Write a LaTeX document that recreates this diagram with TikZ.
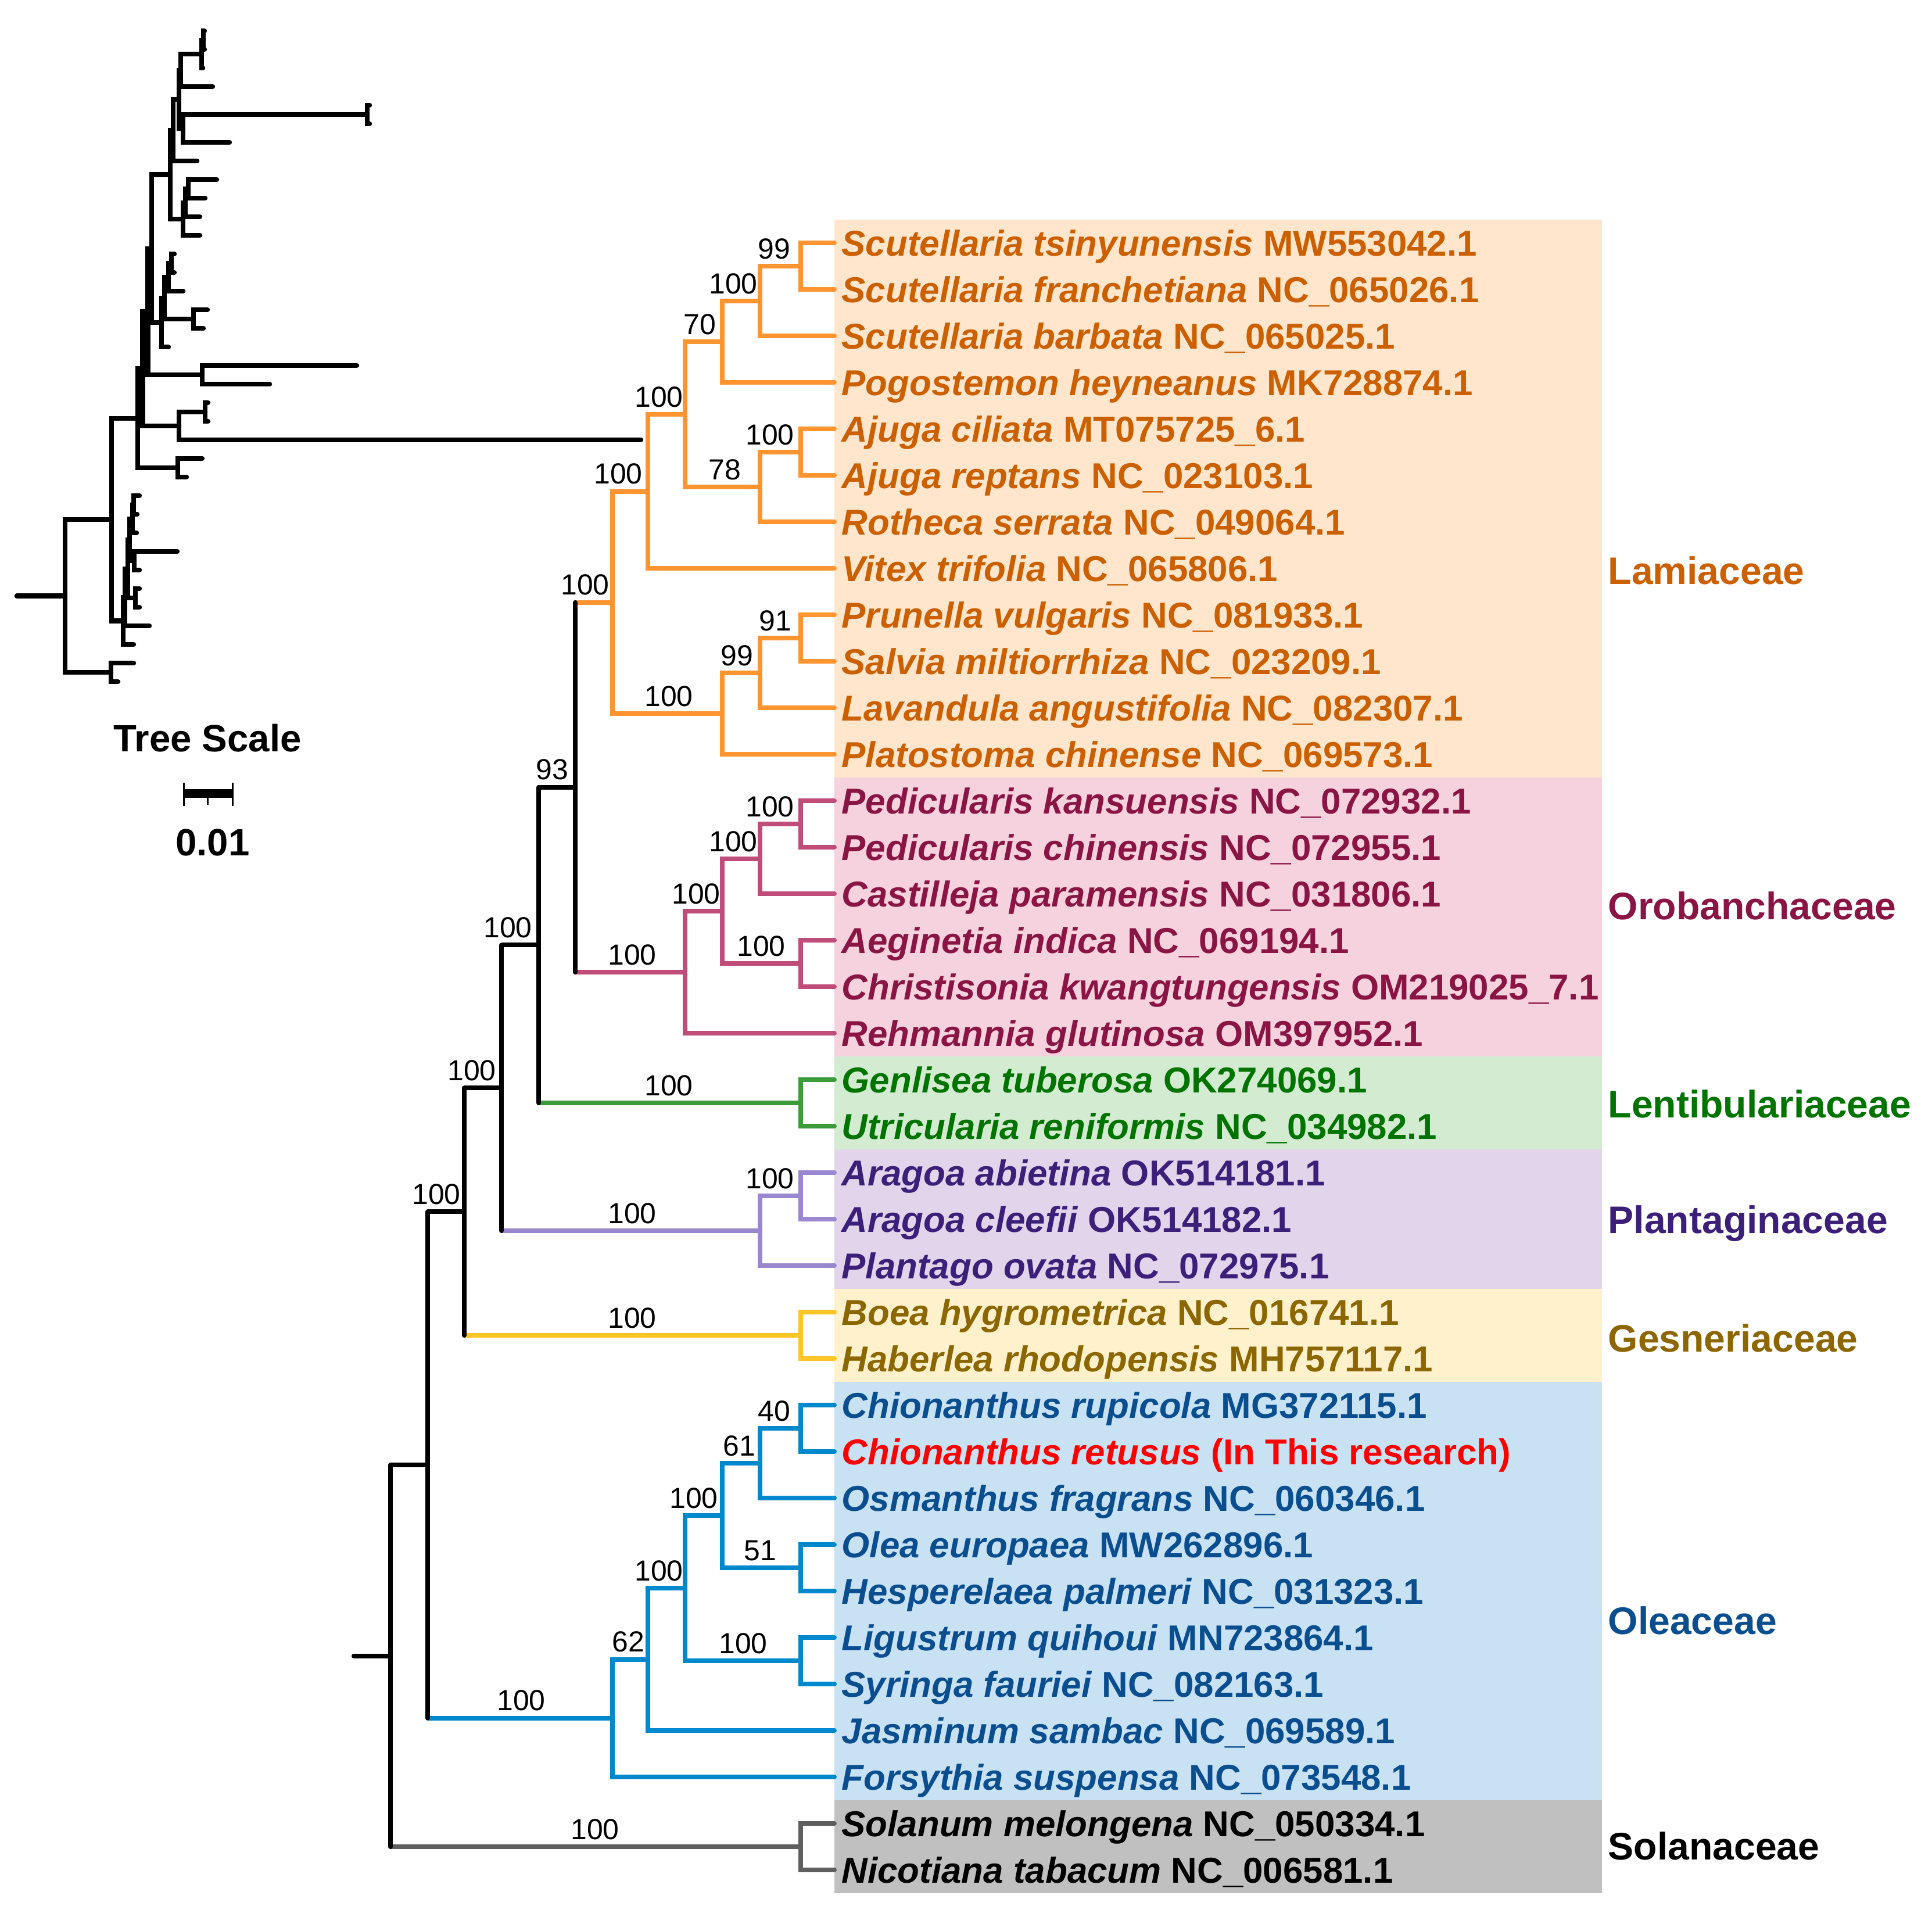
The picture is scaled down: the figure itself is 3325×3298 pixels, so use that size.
\documentclass[tikz,border=0pt]{standalone}
\usepackage{fontspec}
\setmainfont{Liberation Sans}
\usetikzlibrary{positioning}

\definecolor{lamB}{HTML}{FF9430}
\definecolor{lamT}{HTML}{CC5F00}
\definecolor{lamF}{HTML}{FFE6CC}
\definecolor{oroB}{HTML}{C04C7A}
\definecolor{oroT}{HTML}{8A1545}
\definecolor{oroF}{HTML}{F6D2DE}
\definecolor{lenB}{HTML}{3C9C3C}
\definecolor{lenT}{HTML}{007300}
\definecolor{lenF}{HTML}{D3EBD1}
\definecolor{plaB}{HTML}{9B87CF}
\definecolor{plaT}{HTML}{3C1F78}
\definecolor{plaF}{HTML}{E1D4EB}
\definecolor{gesB}{HTML}{FFC526}
\definecolor{gesT}{HTML}{8C6600}
\definecolor{gesF}{HTML}{FFF1CC}
\definecolor{oleB}{HTML}{0088CC}
\definecolor{oleT}{HTML}{0A4E90}
\definecolor{oleF}{HTML}{C8E1F3}
\definecolor{solB}{HTML}{5F5F5F}
\definecolor{solF}{HTML}{C0C0C0}

\newcommand\tipfont{\fontsize{17.6pt}{20pt}\selectfont\bfseries}
\newcommand\famfont{\fontsize{18.8pt}{22pt}\selectfont\bfseries}
\newcommand\bsfont{\fontsize{14.2pt}{16pt}\selectfont}
\newcommand\tsfont{\fontsize{18.6pt}{21pt}\selectfont\bfseries}

\begin{document}
\begin{tikzpicture}
  [x=0.1mm, y=-0.1mm,
   br/.style={line width=0.8mm, line cap=round, line join=miter},
   bb/.style={br, draw=black},
   lam/.style={br, draw=lamB}, oro/.style={br, draw=oroB}, len/.style={br, draw=lenB},
   pla/.style={br, draw=plaB}, ges/.style={br, draw=gesB}, ole/.style={br, draw=oleB},
   sol/.style={br, draw=solB},
   sm/.style={line width=0.85mm, line cap=round, line join=miter},
   tip/.style={anchor=west, inner xsep=1.2mm, inner ysep=0pt, text height=12.6pt, text depth=0pt, font=\tipfont},
   tipL/.style={tip, text=lamT}, tipO/.style={tip, text=oroT}, tipN/.style={tip, text=lenT},
   tipP/.style={tip, text=plaT}, tipG/.style={tip, text=gesT}, tipE/.style={tip, text=oleT},
   tipS/.style={tip, text=black},
   fam/.style={anchor=west, inner sep=0pt, text height=13.4pt, text depth=0pt, font=\famfont},
   bs/.style={anchor=base, inner sep=0pt, yshift=1.3mm, font=\bsfont}]
  \useasboundingbox (0,0) rectangle (3325,3298);

  % family boxes
  \fill[lamF] (1436,378) rectangle (2757,1338);
  \fill[oroF] (1436,1338) rectangle (2757,1818);
  \fill[lenF] (1436,1818) rectangle (2757,1978);
  \fill[plaF] (1436,1978) rectangle (2757,2218);
  \fill[gesF] (1436,2218) rectangle (2757,2378);
  \fill[oleF] (1436,2378) rectangle (2757,3098);
  \fill[solF] (1436,3098) rectangle (2757,3258);

  % small tree with branch lengths
  \foreach \i/\x in {0/352,1/352,2/349,3/366,4/636,5/636,6/395,7/339,8/373,9/353,10/344,11/344,
      12/300,13/300,14/315,15/357,16/350,17/290,18/614,19/464,20/358,21/358,22/1103,23/348,
      24/321,25/240,26/236,27/235,28/305,29/240,30/240,31/240,32/257,33/230,34/230,35/203}
    \coordinate (s\i) at (\x,{53+32*\i});
  \coordinate (sA) at (350,69);      \coordinate (sB) at (347,93);
  \coordinate (sC) at (311,121);     \coordinate (sD) at (632,197);
  \coordinate (sE) at (315,221);     \coordinate (sF) at (308,171);
  \coordinate (sG) at (298,224);     \coordinate (sH) at (324,325);
  \coordinate (sI) at (319,349);     \coordinate (sJ) at (315,377);
  \coordinate (sK) at (293,300.5);   \coordinate (sL) at (295,453);
  \coordinate (sM) at (290,477);     \coordinate (sN) at (333,549);
  \coordinate (sO) at (283,513);     \coordinate (sP) at (278,555);
  \coordinate (sQ) at (261,427.75);  \coordinate (sR) at (348,645);
  \coordinate (sS) at (254.5,536.4); \coordinate (sT) at (353,709);
  \coordinate (sU) at (308,733);     \coordinate (sV) at (245.5,634.7);
  \coordinate (sW) at (306,805);     \coordinate (sX) at (237,719.8);
  \coordinate (sY) at (230,869);     \coordinate (sZ) at (228,893);
  \coordinate (sAA) at (231,965);    \coordinate (sAB) at (223,929);
  \coordinate (sAC) at (233,1029);   \coordinate (sAD) at (220,979);
  \coordinate (sAE) at (215,1028);   \coordinate (sAF) at (212,1068.5);
  \coordinate (sAG) at (192,894.2);  \coordinate (sAH) at (191,1157);
  \coordinate (sR0) at (112,1025.6); \coordinate (sR00) at (29,1025.6);
  \foreach \p/\a/\b in {A/s0/s1, B/sA/s2, C/sB/s3, D/s4/s5, E/sD/s6, F/sC/sE, G/sF/s7,
      H/s8/s9, I/sH/s10, J/sI/s11, K/sG/sJ, L/s12/s13, M/sL/s14, N/s15/s16, O/sM/sN,
      P/sO/s17, Q/sK/sP, R/s18/s19, S/sQ/sR, T/s20/s21, U/sT/s22, V/sS/sU, W/s23/s24,
      X/sV/sW, Y/s25/s26, Z/sY/s27, AA/s28/s29, AB/sZ/sAA, AC/s30/s31, AD/sAB/sAC,
      AE/sAD/s32, AF/sAE/s33, AG/sX/sAF, AH/s34/s35, R0/sAG/sAH}
    \draw[sm] (\a) -| (s\p) |- (\b);
  \draw[sm] (sR00) -- (sR0);

  % scale
  \node[anchor=base, inner sep=0pt, font=\tsfont] (tscale) at (357,1293) {Tree Scale};
  \coordinate (sbL) at (316,1365);
  \coordinate (sbM) at (357,1365);
  \coordinate (sbR) at (400,1365);
  \draw[line width=1.5mm] (sbL) -- (sbR);
  \draw[line width=0.3mm] ([yshift=1.8mm]sbL) -- ([yshift=-2.2mm]sbL);
  \draw[line width=0.3mm] ([yshift=1.8mm]sbR) -- ([yshift=-2.2mm]sbR);
  \draw[line width=0.3mm] (sbM) -- ([yshift=-2mm]sbM);
  \node[anchor=base, inner sep=0pt, font=\tsfont] (tval) at (366,1472) {0.01};

  % tips
  \node[tipL] (t0) at (1436,418) {\textit{Scutellaria tsinyunensis} MW553042.1};
  \node[tipL] (t1) at (1436,498) {\textit{Scutellaria franchetiana} NC\_065026.1};
  \node[tipL] (t2) at (1436,578) {\textit{Scutellaria barbata} NC\_065025.1};
  \node[tipL] (t3) at (1436,658) {\textit{Pogostemon heyneanus} MK728874.1};
  \node[tipL] (t4) at (1436,738) {\textit{Ajuga ciliata} MT075725\_6.1};
  \node[tipL] (t5) at (1436,818) {\textit{Ajuga reptans} NC\_023103.1};
  \node[tipL] (t6) at (1436,898) {\textit{Rotheca serrata} NC\_049064.1};
  \node[tipL] (t7) at (1436,978) {\textit{Vitex trifolia} NC\_065806.1};
  \node[tipL] (t8) at (1436,1058) {\textit{Prunella vulgaris} NC\_081933.1};
  \node[tipL] (t9) at (1436,1138) {\textit{Salvia miltiorrhiza} NC\_023209.1};
  \node[tipL] (t10) at (1436,1218) {\textit{Lavandula angustifolia} NC\_082307.1};
  \node[tipL] (t11) at (1436,1298) {\textit{Platostoma chinense} NC\_069573.1};
  \node[tipO] (t12) at (1436,1378) {\textit{Pedicularis kansuensis} NC\_072932.1};
  \node[tipO] (t13) at (1436,1458) {\textit{Pedicularis chinensis} NC\_072955.1};
  \node[tipO] (t14) at (1436,1538) {\textit{Castilleja paramensis} NC\_031806.1};
  \node[tipO] (t15) at (1436,1618) {\textit{Aeginetia indica} NC\_069194.1};
  \node[tipO] (t16) at (1436,1698) {\textit{Christisonia kwangtungensis} OM219025\_7.1};
  \node[tipO] (t17) at (1436,1778) {\textit{Rehmannia glutinosa} OM397952.1};
  \node[tipN] (t18) at (1436,1858) {\textit{Genlisea tuberosa} OK274069.1};
  \node[tipN] (t19) at (1436,1938) {\textit{Utricularia reniformis} NC\_034982.1};
  \node[tipP] (t20) at (1436,2018) {\textit{Aragoa abietina} OK514181.1};
  \node[tipP] (t21) at (1436,2098) {\textit{Aragoa cleefii} OK514182.1};
  \node[tipP] (t22) at (1436,2178) {\textit{Plantago ovata} NC\_072975.1};
  \node[tipG] (t23) at (1436,2258) {\textit{Boea hygrometrica} NC\_016741.1};
  \node[tipG] (t24) at (1436,2338) {\textit{Haberlea rhodopensis} MH757117.1};
  \node[tipE] (t25) at (1436,2418) {\textit{Chionanthus rupicola} MG372115.1};
  \node[tip, text=red] (t26) at (1436,2498) {\textit{Chionanthus retusus} (In This research)};
  \node[tipE] (t27) at (1436,2578) {\textit{Osmanthus fragrans} NC\_060346.1};
  \node[tipE] (t28) at (1436,2658) {\textit{Olea europaea} MW262896.1};
  \node[tipE] (t29) at (1436,2738) {\textit{Hesperelaea palmeri} NC\_031323.1};
  \node[tipE] (t30) at (1436,2818) {\textit{Ligustrum quihoui} MN723864.1};
  \node[tipE] (t31) at (1436,2898) {\textit{Syringa fauriei} NC\_082163.1};
  \node[tipE] (t32) at (1436,2978) {\textit{Jasminum sambac} NC\_069589.1};
  \node[tipE] (t33) at (1436,3058) {\textit{Forsythia suspensa} NC\_073548.1};
  \node[tipS] (t34) at (1436,3138) {\textit{Solanum melongena} NC\_050334.1};
  \node[tipS] (t35) at (1436,3218) {\textit{Nicotiana tabacum} NC\_006581.1};

  % inner nodes
  \coordinate (nA) at (1378,458);     \coordinate (nB) at (1308,518);
  \coordinate (nC) at (1243,588);     \coordinate (nD) at (1378,778);
  \coordinate (nE) at (1308,838);     \coordinate (nF) at (1179,713);
  \coordinate (nG) at (1115,845.5);   \coordinate (nH) at (1378,1098);
  \coordinate (nI) at (1308,1158);    \coordinate (nJ) at (1243,1228);
  \coordinate (nK) at (1054,1036.75); \coordinate (nL) at (1378,1418);
  \coordinate (nM) at (1308,1478);    \coordinate (nN) at (1378,1658);
  \coordinate (nO) at (1243,1568);    \coordinate (nP) at (1179,1673);
  \coordinate (nQ) at (990,1354.9);   \coordinate (nR) at (1378,1898);
  \coordinate (nS) at (927,1626.4);   \coordinate (nT) at (1378,2058);
  \coordinate (nU) at (1308,2118);    \coordinate (nV) at (863,1872.2);
  \coordinate (nW) at (1378,2298);    \coordinate (nX) at (799,2085.1);
  \coordinate (nY) at (1378,2458);    \coordinate (nZ) at (1308,2518);
  \coordinate (nAA) at (1378,2698);   \coordinate (nAB) at (1243,2608);
  \coordinate (nAC) at (1378,2858);   \coordinate (nAD) at (1179,2733);
  \coordinate (nAE) at (1115,2855.5); \coordinate (nAF) at (1054,2956.75);
  \coordinate (nAG) at (736,2520.9);  \coordinate (nAH) at (1378,3178);
  \coordinate (nR0) at (672,2849.5);  \coordinate (nR00) at (609,2849.5);

  % branches inside the families
  \foreach \p/\a/\b/\c in {A/t0/t1/lam, B/nA/t2/lam, C/nB/t3/lam, D/t4/t5/lam, E/nD/t6/lam,
      F/nC/nE/lam, G/nF/t7/lam, H/t8/t9/lam, I/nH/t10/lam, J/nI/t11/lam, K/nG/nJ/lam,
      L/t12/t13/oro, M/nL/t14/oro, N/t15/t16/oro, O/nM/nN/oro, P/nO/t17/oro,
      R/t18/t19/len, T/t20/t21/pla, U/nT/t22/pla, W/t23/t24/ges,
      Y/t25/t26/ole, Z/nY/t27/ole, AA/t28/t29/ole, AB/nZ/nAA/ole, AC/t30/t31/ole,
      AD/nAB/nAC/ole, AE/nAD/t32/ole, AF/nAE/t33/ole, AH/t34/t35/sol}
    \draw[\c] (\a) -| (n\p) |- (\b);
  % backbone
  \foreach \p/\a/\ca/\b/\cb in {Q/nK/lam/nP/oro, S/nQ/bb/nR/len, V/nS/bb/nU/pla,
      X/nV/bb/nW/ges, AG/nX/bb/nAF/ole, R0/nAG/bb/nAH/sol}{
    \draw[\ca, line cap=butt] (\a -| n\p) -- (\a);
    \draw[\cb, line cap=butt] (\b -| n\p) -- (\b);
    \draw[bb] (\a -| n\p) -- (\b -| n\p);
  }
  \draw[bb] (nR00) -- (nR0);

  % bootstrap values
  \foreach \p/\x/\v in {A/1332/99, B/1262/100, C/1204/70, D/1325/100, E/1247/78, F/1134/100,
      G/1064/100, H/1334/91, I/1268/99, J/1151/100, K/1007/100, L/1325/100, M/1262/100,
      N/1310/100, O/1198/100, P/1088/100, Q/950/93, R/1151/100, S/874/100, T/1325/100,
      U/1088/100, V/812/100, W/1088/100, X/751/100, Y/1332/40, Z/1272/61, AA/1308/51,
      AB/1194/100, AC/1279/100, AD/1134/100, AE/1081/62, AF/897/100, AH/1024/100}
    \node[bs] (b\p) at (\x,0 |- n\p) {\v};

  % families
  \node[fam, text=lamT] (fLam) at (2767,982) {Lamiaceae};
  \node[fam, text=oroT] (fOro) at (2767,1559) {Orobanchaceae};
  \node[fam, text=lenT] (fLen) at (2767,1900) {Lentibulariaceae};
  \node[fam, text=plaT] (fPla) at (2767,2099) {Plantaginaceae};
  \node[fam, text=gesT] (fGes) at (2767,2303) {Gesneriaceae};
  \node[fam, text=oleT] (fOle) at (2767,2789) {Oleaceae};
  \node[fam, text=black] (fSol) at (2767,3177) {Solanaceae};
\end{tikzpicture}
\end{document}
